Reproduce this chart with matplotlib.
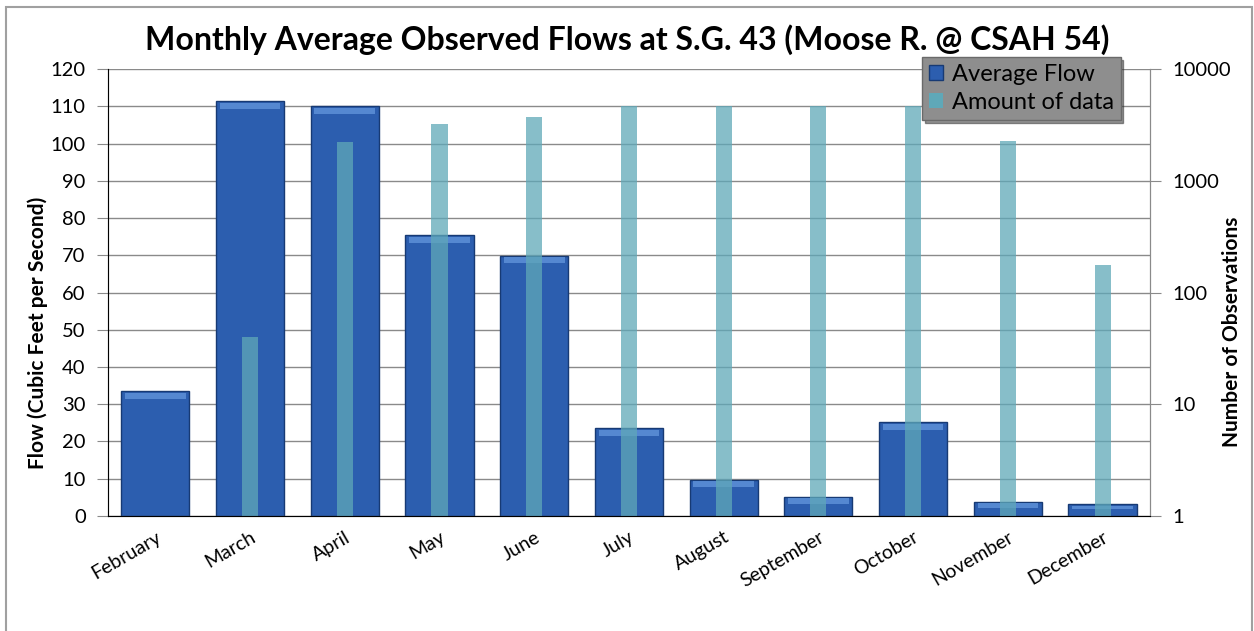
import numpy as np
import matplotlib
matplotlib.use("Agg")
import matplotlib.pyplot as plt
from matplotlib.patches import Rectangle

plt.rcParams['font.family'] = ['Lato', 'DejaVu Sans']

months = ['February', 'March', 'April', 'May', 'June', 'July', 'August',
          'September', 'October', 'November', 'December']
average_flow = [33.5, 111.4, 110.0, 75.4, 69.8, 23.6, 9.7, 5.1, 25.2, 3.8, 3.2]
amount_of_data = [np.nan, 40, 2230, 3220, 3720, 4650, 4650, 4650, 4650, 2270, 177]

flow_ticks = list(range(0, 121, 10))
obs_ticks = [1, 10, 100, 1000, 10000]

fig = plt.figure(figsize=(12.54, 6.31), dpi=100)
ax = fig.add_axes([0.0861, 0.1823, 0.8309, 0.7083])
ax2 = ax.twinx()

x = np.arange(len(months))

# main bars (left axis)
bars = ax.bar(x, average_flow, width=0.72, color='#2c5eaf', edgecolor='#173a74',
              linewidth=1.0, label='Average Flow', zorder=2)
# lighter bevel strip along each bar top
for b in bars:
    h = b.get_height()
    strip = min(1.6, h * 0.3)
    ax.add_patch(Rectangle((b.get_x() + 0.04, h - strip - 0.4), b.get_width() - 0.08, strip,
                           facecolor='#5d90d8', edgecolor='none', alpha=0.85, zorder=3))

ax.set_xlim(-0.5, len(months) - 0.5)
ax.set_ylim(0, 120)
ax.set_yticks(flow_ticks)
ax.yaxis.grid(True, color='#8a8a8a', linewidth=1.0)
ax.set_axisbelow(True)
ax.set_xticks(x)
ax.set_xticklabels(months, rotation=30, ha='right', rotation_mode='anchor', fontsize=14)
ax.set_xticks(np.arange(-0.5, len(months), 1.0), minor=True)
ax.tick_params(axis='x', which='major', length=0, pad=9)
ax.tick_params(axis='x', which='minor', length=7, color='#8a8a8a', direction='out')
ax.tick_params(axis='y', length=8, color='#8a8a8a', labelsize=14.5, pad=8)
ax.spines['top'].set_visible(False)
for s in ['left', 'bottom', 'right']:
    ax.spines[s].set_color('#8a8a8a')

# secondary bars (right, log axis)
obs_heights = [v - 1 if not np.isnan(v) else 0 for v in amount_of_data]
ax2.set_yscale('log')
ax2.bar(x, obs_heights, bottom=1, width=0.17, color='#5fa8b8', alpha=0.75,
        edgecolor='none', label='Amount of data', zorder=2)
ax2.set_ylim(1, 10000)
ax2.set_yticks(obs_ticks)
ax2.set_yticklabels([str(t) for t in obs_ticks])
ax2.minorticks_off()
ax2.tick_params(axis='y', length=8, color='#8a8a8a', labelsize=14.5, pad=8)
ax2.spines['top'].set_visible(False)
ax2.spines['right'].set_color('#8a8a8a')

# axis titles placed like the original chart
fig.text(38 / 1254, 1 - 333 / 631, 'Flow (Cubic Feet per Second)', rotation=90,
         ha='center', va='center', fontsize=15, fontweight='bold')
fig.text(1232 / 1254, 1 - 332 / 631, 'Number of Observations', rotation=90,
         ha='center', va='center', fontsize=15, fontweight='bold')

fig.text(0.5, 0.937, 'Monthly Average Observed Flows at S.G. 43 (Moose R. @ CSAH 54)',
         ha='center', va='center', fontsize=23, fontweight='bold')

leg = ax2.legend(handles=[bars, ax2.containers[0]], loc='upper left',
                 bbox_to_anchor=(922 / 1254, 1 - 57 / 631), bbox_transform=fig.transFigure,
                 fontsize=17, frameon=True, fancybox=False, shadow=True,
                 handlelength=0.6, handleheight=0.6, handletextpad=0.35,
                 borderpad=0.3, labelspacing=0.3, borderaxespad=0)
leg.get_frame().set_facecolor('#8e8e8e')
leg.get_frame().set_edgecolor('#6a6a6a')
leg.get_frame().set_alpha(1.0)
leg.set_zorder(10)
for h in leg.legend_handles:
    h.set_alpha(1.0)

# outer chart border
fig.patches.append(Rectangle((6 / 1254, -0.05), 1246 / 1254, 1.05 - 7 / 631,
                             transform=fig.transFigure, fill=False,
                             edgecolor='#a0a0a0', linewidth=1.5))

fig.savefig('out.png', dpi=100)
